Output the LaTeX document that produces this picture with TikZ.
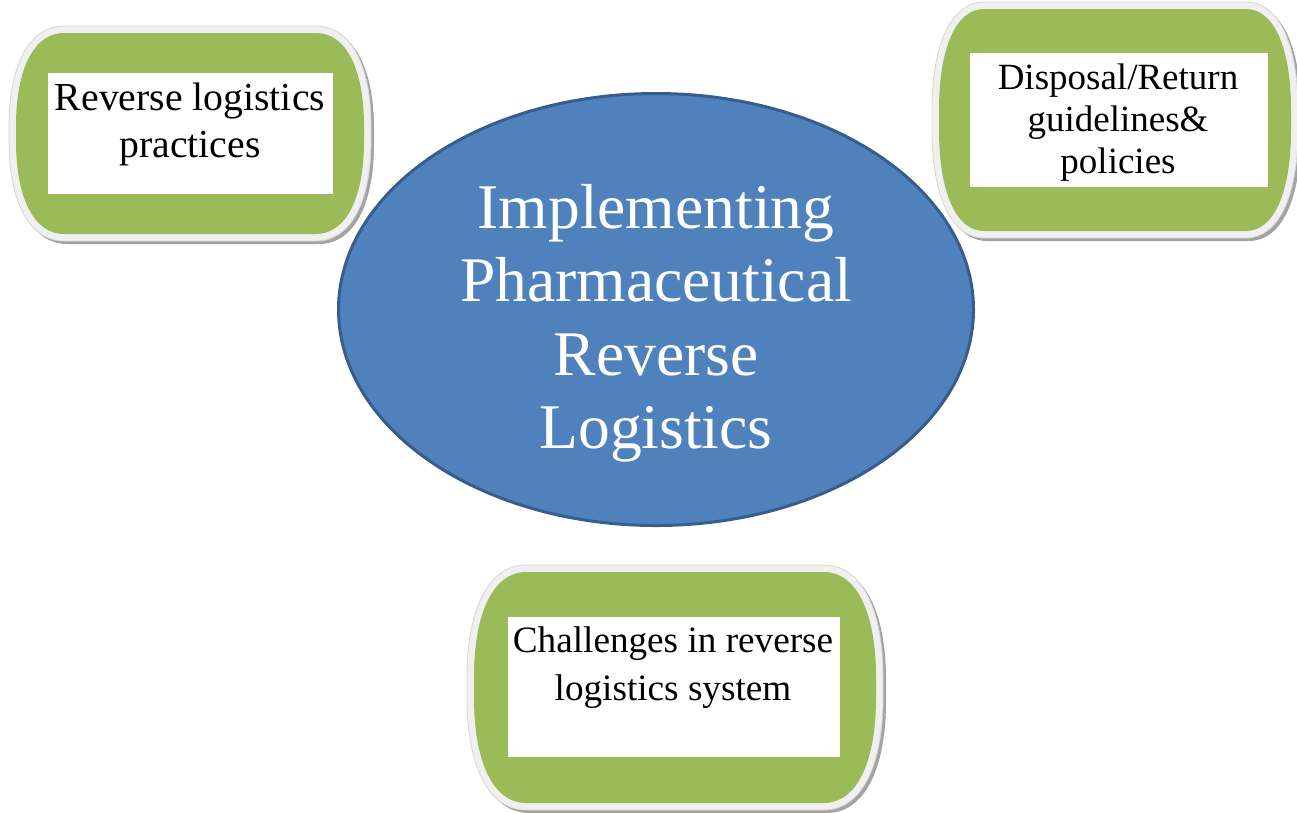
\documentclass[tikz,border=0pt]{standalone}
\usepackage{fontspec}
\setmainfont{Liberation Serif}
\usetikzlibrary{shapes.geometric}
\definecolor{pgreen}{HTML}{9BBB59}
\definecolor{pblue}{HTML}{4F81BD}
\definecolor{pblueedge}{HTML}{385D8A}
\definecolor{bevel}{HTML}{F0F0F0}
\definecolor{bevedge}{HTML}{D6D6D6}
\definecolor{shade}{HTML}{A3A3A3}
\newcommand\pillshape[7]{%
 \pgfmathsetmacro\pxa{#1}\pgfmathsetmacro\pya{#2}\pgfmathsetmacro\pxb{#3}\pgfmathsetmacro\pyb{#4}%
 \pgfmathsetmacro\prx{#5}\pgfmathsetmacro\pry{#6}%
 \pgfmathsetmacro\pkx{0.38*\prx}\pgfmathsetmacro\pky{0.38*\pry}%
 \path[#7] (\pxa,\pya+\pry) .. controls (\pxa,\pya+\pky) and (\pxa+\pkx,\pya) .. (\pxa+\prx,\pya)
   -- (\pxb-\prx,\pya) .. controls (\pxb-\pkx,\pya) and (\pxb,\pya+\pky) .. (\pxb,\pya+\pry)
   -- (\pxb,\pyb-\pry) .. controls (\pxb,\pyb-\pky) and (\pxb-\pkx,\pyb) .. (\pxb-\prx,\pyb)
   -- (\pxa+\prx,\pyb) .. controls (\pxa+\pkx,\pyb) and (\pxa,\pyb-\pky) .. (\pxa,\pyb-\pry) -- cycle;}
\newcommand\pillgroup[6]{%
 \pillshape{#1+3}{#2+3}{#3+3}{#4+3}{#5}{#6}{fill=shade}%
 \pillshape{#1}{#2}{#3}{#4}{#5}{#6}{fill=bevel,draw=bevedge,line width=0.8pt}%
 \pillshape{#1+7}{#2+7}{#3-7}{#4-7}{#5-7}{#6-7}{fill=pgreen}}
\tikzset{
  wbox/.style={fill=white, inner sep=0pt, draw=none},
  gtext/.style={inner sep=0pt, align=center, text=black},
  ctextstyle/.style={inner sep=0pt, align=center, text=white, font=\fontsize{63.6}{73.3}\selectfont},
  hub/.style={ellipse, fill=pblue, draw=pblueedge, line width=3pt, inner sep=0pt,
              minimum width=635pt, minimum height=432pt}
}
\begin{document}
\begin{tikzpicture}[x=1pt,y=-1pt]
\useasboundingbox (0,0) rectangle (1297,812);
\clip (0,0) rectangle (1297,812);
% central ellipse
\node[hub] (hubshape) at (656,309.5) {};
\node[ctextstyle] (hubtext) at (656,323.2) {Implementing\\Pharmaceutical\\Reverse\\Logistics};
% left
\pillgroup{9}{26}{371}{241}{55}{100}
\node[wbox, minimum width=285pt, minimum height=121pt] (lbox) at (190.5,133.5) {};
\node[gtext, font=\fontsize{39.7}{47}\selectfont] (ltext) at (190,124.3) {Reverse logistics\\practices};
% right
\pillgroup{932}{2}{1298}{238}{52}{108}
\node[wbox, minimum width=298pt, minimum height=134pt] (rbox) at (1119,120) {};
\node[gtext, font=\fontsize{37}{42}\selectfont] (rtext) at (1118,122.4) {Disposal/Return\\guidelines\&\\policies};
% bottom
\pillgroup{467}{565}{883}{810}{59}{112}
\node[wbox, minimum width=332pt, minimum height=140pt] (bbox) at (674,687) {};
\node[gtext, font=\fontsize{37.2}{48}\selectfont] (btext) at (673,667.4) {Challenges in reverse\\logistics system};
\end{tikzpicture}
\end{document}
